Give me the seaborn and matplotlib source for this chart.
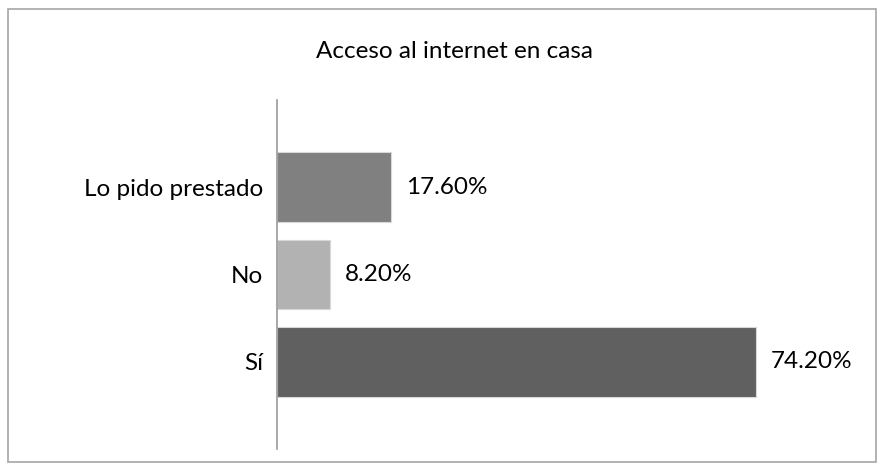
import matplotlib
matplotlib.use("Agg")
import matplotlib.pyplot as plt
import seaborn as sns
import pandas as pd
from matplotlib.patches import Rectangle

categories = ["Lo pido prestado", "No", "Sí"]
values = [17.6, 8.2, 74.2]
labels = ["17.60%", "8.20%", "74.20%"]
colors = ["#808080", "#b2b2b2", "#606060"]
title = "Acceso al internet en casa"

sns.set_theme(style="white")
plt.rcParams['font.family'] = ['Lato', 'DejaVu Sans']

W, H = 883, 470
fig = plt.figure(figsize=(W/100, H/100), dpi=100)
ax_left, ax_right, ax_top, ax_bot = 277, 866, 100, 449
ax = fig.add_axes([ax_left/W, 1-ax_bot/H, (ax_right-ax_left)/W, (ax_bot-ax_top)/H])

df = pd.DataFrame({"cat": categories, "val": values})
sns.barplot(data=df, x="val", y="cat", hue="cat", palette=colors, legend=False,
            width=0.8, ax=ax, edgecolor="#d8d8d8", linewidth=0.8)

scale = 479/74.2
ax.set_xlim(0, (ax_right-ax_left)/scale)
ax.set_ylim(3, -1)
for i, (v, lab) in enumerate(zip(values, labels)):
    ax.text(v + 15/scale, i, lab, va="center", ha="left", fontsize=17.5, color="#000000")

for s in ["top", "right", "bottom"]:
    ax.spines[s].set_visible(False)
ax.spines["left"].set_color("#999999")
ax.spines["left"].set_linewidth(1.2)
ax.set_xticks([])
ax.set_xlabel("")
ax.set_ylabel("")
ax.tick_params(axis="y", length=0, pad=10, labelsize=17.5, labelcolor="#000000")

fig.text(454/W, 1-52/H, title, ha="center", va="center", fontsize=17.5, color="#000000")
fig.patches.append(Rectangle((8/W, 1-462/H), (876-8)/W, (462-9)/H, transform=fig.transFigure,
                             fill=False, edgecolor="#a6a6a6", linewidth=1.2))

fig.savefig("out.png", dpi=100)
